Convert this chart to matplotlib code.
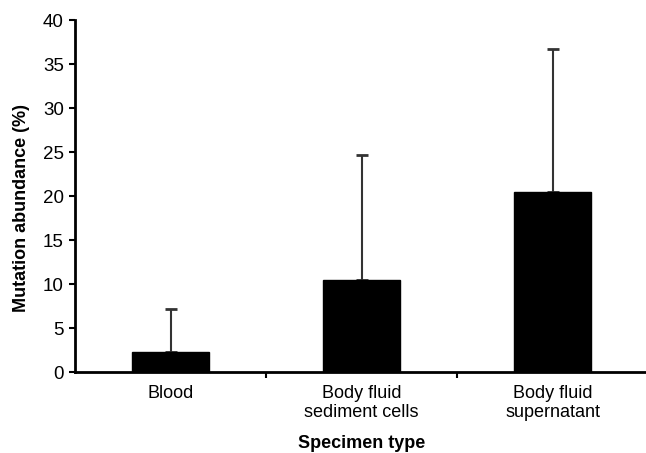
import matplotlib

matplotlib.use("Agg")
import matplotlib.pyplot as plt
import numpy as np

# values
categories = ["Blood", "Body fluid\nsediment cells", "Body fluid\nsupernatant"]
abundance = [2.3, 10.4, 20.5]
error_up = [4.9, 14.3, 16.2]

plt.rcParams["font.family"] = ["Liberation Sans", "DejaVu Sans"]

fig = plt.figure(figsize=(6.46, 4.53), dpi=100)
ax = fig.add_axes([0.1161, 0.1788, 0.887, 0.777])

x = np.arange(len(categories))
ax.bar(x, abundance, width=0.40, color="black", edgecolor="black", zorder=2)
ax.errorbar(x, abundance, yerr=[np.zeros(len(x)), error_up], fmt="none",
            ecolor="#333333", elinewidth=1.5, capsize=4.5, capthick=2, zorder=1)

ax.set_xlim(-0.5, 2.5)
ax.set_ylim(0, 40)
ax.set_yticks(np.arange(0, 41, 5))
ax.tick_params(axis="y", direction="out", length=4.5, width=1.5, labelsize=13.5, pad=3.5)

# category labels centred, tick marks between groups
ax.set_xticks(x)
ax.set_xticklabels(categories, fontsize=13)
ax.tick_params(axis="x", which="major", length=0, pad=9)
ax.set_xticks([0.5, 1.5], minor=True)
ax.tick_params(axis="x", which="minor", direction="out", length=4.5, width=1.5)

for side in ("top", "right"):
    ax.spines[side].set_visible(False)
for side in ("left", "bottom"):
    ax.spines[side].set_linewidth(2)

ax.set_ylabel("Mutation abundance (%)", fontsize=13, fontweight="bold")
ax.yaxis.set_label_coords(-0.078, 0.466)
ax.set_xlabel("Specimen type", fontsize=13, fontweight="bold", labelpad=10)

fig.savefig("out.png", dpi=100)
